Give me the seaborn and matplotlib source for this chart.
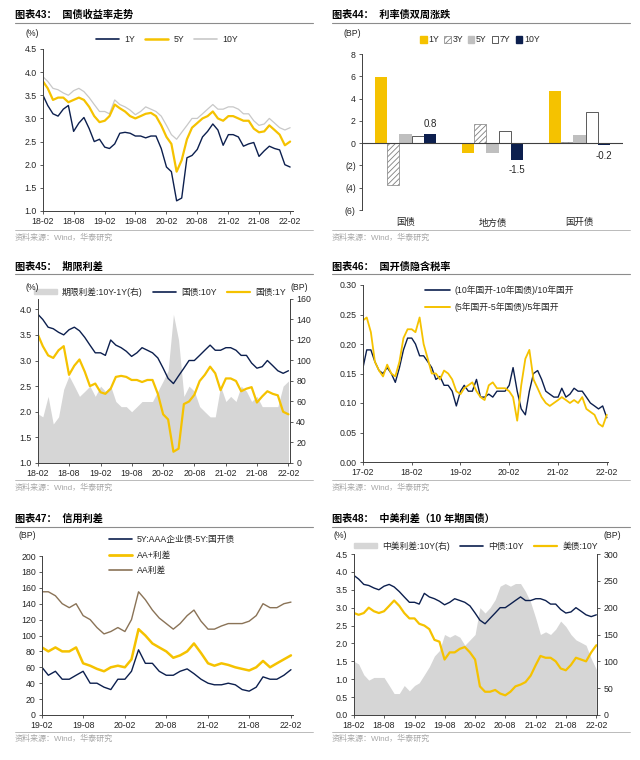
import matplotlib
matplotlib.use('Agg')
import matplotlib.pyplot as plt
import matplotlib.dates as mdates
from matplotlib.lines import Line2D
from matplotlib.patches import Patch
from matplotlib.ticker import FuncFormatter, FormatStrFormatter, MultipleLocator
import pandas as pd
import seaborn as sns

sns.set_theme(style='ticks')
plt.rcParams['font.family'] = ['Liberation Sans', 'Noto Sans CJK SC', 'DejaVu Sans']
plt.rcParams['axes.unicode_minus'] = False
plt.rcParams['hatch.linewidth'] = 0.6

NAVY = '#0c1f4e'
GOLD = '#f5c200'
LGRAY = '#c8c8c8'
AREA = '#d6d6d6'
BROWN = '#8a7357'
W, H = 640, 760

# =============================================================================
# data (monthly readings)
# =============================================================================
months_18 = pd.date_range('2018-02-01', '2022-02-01', freq='MS')
months_17 = pd.date_range('2017-02-01', '2022-02-01', freq='MS')
months_19 = pd.date_range('2019-02-01', '2022-02-01', freq='MS')

gov_1y = [3.50, 3.28, 3.10, 3.05, 3.20, 3.28, 2.72, 2.90, 3.02, 2.78, 2.50, 2.55,
          2.38, 2.35, 2.45, 2.68, 2.70, 2.68, 2.62, 2.62, 2.58, 2.62, 2.62, 2.35,
          1.95, 1.85, 1.22, 1.28, 2.15, 2.20, 2.33, 2.60, 2.72, 2.88, 2.75, 2.42,
          2.65, 2.65, 2.60, 2.40, 2.45, 2.48, 2.18, 2.30, 2.40, 2.35, 2.32, 2.00,
          1.95]
gov_5y = [3.80, 3.65, 3.40, 3.45, 3.45, 3.35, 3.40, 3.45, 3.40, 3.25, 3.05, 2.92,
          2.95, 3.05, 3.30, 3.22, 3.15, 3.05, 3.00, 3.05, 3.10, 3.12, 3.05, 2.85,
          2.60, 2.45, 1.85, 2.10, 2.55, 2.80, 2.90, 3.00, 3.05, 3.15, 3.00, 2.95,
          3.05, 3.05, 3.00, 2.95, 2.95, 2.78, 2.70, 2.72, 2.85, 2.75, 2.65, 2.42,
          2.50]
gov_10y = [3.90, 3.80, 3.65, 3.62, 3.55, 3.50, 3.60, 3.65, 3.58, 3.45, 3.30, 3.15,
           3.15, 3.10, 3.40, 3.30, 3.25, 3.18, 3.08, 3.15, 3.25, 3.20, 3.15, 3.05,
           2.85, 2.65, 2.55, 2.70, 2.85, 3.00, 3.00, 3.10, 3.20, 3.30, 3.20, 3.20,
           3.25, 3.25, 3.20, 3.10, 3.10, 2.95, 2.85, 2.88, 3.00, 2.90, 2.80, 2.75,
           2.80]

bond_types = ['国债', '地方债', '国开债']
tenors = ['1Y', '3Y', '5Y', '7Y', '10Y']
chg_1y = [5.9, -0.9, 4.7]
chg_3y = [-3.8, 1.7, 0.1]
chg_5y = [0.8, -0.9, 0.7]
chg_7y = [0.6, 1.1, 2.8]
chg_10y = [0.8, -1.5, -0.2]

term_spread = [48, 45, 65, 38, 45, 72, 85, 75, 65, 70, 75, 65,
               75, 70, 75, 60, 55, 55, 50, 55, 60, 60, 60, 70,
               80, 90, 145, 120, 65, 75, 70, 55, 50, 45, 45, 75,
               60, 65, 60, 75, 70, 60, 65, 55, 55, 55, 55, 75,
               80]

tax_10y = [0.160, 0.190, 0.190, 0.170, 0.155, 0.150, 0.160, 0.150, 0.135, 0.160, 0.190, 0.210,
           0.210, 0.200, 0.180, 0.180, 0.170, 0.160, 0.140, 0.145, 0.130, 0.130, 0.120, 0.095,
           0.120, 0.130, 0.120, 0.120, 0.140, 0.110, 0.110, 0.115, 0.110, 0.120, 0.120, 0.120,
           0.130, 0.160, 0.120, 0.090, 0.080, 0.120, 0.150, 0.155, 0.140, 0.120, 0.115, 0.110,
           0.110, 0.125, 0.110, 0.115, 0.125, 0.120, 0.120, 0.110, 0.100, 0.095, 0.090, 0.095,
           0.075]
tax_5y = [0.240, 0.245, 0.220, 0.170, 0.155, 0.145, 0.165, 0.150, 0.145, 0.170, 0.210, 0.225,
          0.225, 0.220, 0.245, 0.200, 0.175, 0.150, 0.150, 0.140, 0.155, 0.150, 0.140, 0.120,
          0.115, 0.125, 0.130, 0.135, 0.120, 0.110, 0.105, 0.130, 0.135, 0.125, 0.125, 0.125,
          0.120, 0.110, 0.070, 0.130, 0.175, 0.190, 0.140, 0.125, 0.110, 0.100, 0.095, 0.100,
          0.105, 0.110, 0.105, 0.100, 0.105, 0.100, 0.110, 0.090, 0.085, 0.080, 0.065, 0.060,
          0.080]

aaa_spread = [60, 50, 55, 45, 45, 50, 55, 40, 40, 35, 32, 45,
              45, 55, 82, 65, 65, 55, 50, 50, 55, 58, 52, 45,
              40, 38, 38, 40, 38, 32, 30, 35, 48, 45, 45, 50,
              57]
aa_plus_spread = [85, 80, 85, 80, 80, 85, 65, 62, 58, 55, 60, 62,
                  60, 70, 108, 100, 90, 85, 80, 72, 75, 80, 90, 78,
                  65, 62, 65, 63, 60, 58, 56, 60, 68, 60, 65, 70,
                  75]
aa_spread = [155, 155, 150, 140, 135, 140, 125, 120, 110, 102, 105, 110,
             105, 120, 155, 145, 132, 122, 115, 108, 115, 125, 132, 118,
             108, 108, 112, 115, 115, 115, 118, 125, 140, 135, 135, 140,
             142]

us_10y = [2.85, 2.80, 2.85, 3.00, 2.90, 2.85, 2.90, 3.05, 3.20, 3.05, 2.85, 2.70,
          2.70, 2.55, 2.50, 2.40, 2.10, 2.05, 1.55, 1.75, 1.75, 1.85, 1.90, 1.75,
          1.55, 0.80, 0.65, 0.65, 0.70, 0.60, 0.55, 0.65, 0.80, 0.85, 0.92, 1.10,
          1.40, 1.65, 1.60, 1.60, 1.50, 1.30, 1.25, 1.40, 1.60, 1.55, 1.50, 1.75,
          1.95]
cn_us_spread = [100, 95, 75, 65, 70, 70, 70, 55, 40, 40, 55, 45,
                55, 60, 75, 90, 110, 120, 150, 145, 150, 145, 130, 140,
                150, 200, 190, 200, 215, 240, 245, 240, 245, 245, 230, 210,
                180, 150, 155, 150, 160, 175, 165, 150, 140, 135, 130, 105,
                85]

# =============================================================================
# helpers
# =============================================================================
fig = plt.figure(figsize=(6.4, 7.6), dpi=100)


def px_axes(l, t, r, b):
    return fig.add_axes([l / W, 1 - b / H, (r - l) / W, (b - t) / H])


def fx(x):
    return x / W


def fy(y):
    return 1 - y / H


def frame(x0, x1, y_title, y_line, y_src_line, y_src, title):
    fig.text(fx(x0), fy(y_title), title, fontsize=7.3, fontweight='bold',
             va='center', ha='left', color='black')
    fig.add_artist(Line2D([fx(x0), fx(x1)], [fy(y_line)] * 2,
                          color='#8c8c8c', lw=0.8))
    fig.add_artist(Line2D([fx(x0), fx(x1)], [fy(y_src_line)] * 2,
                          color='#b0b0b0', lw=0.6))
    fig.text(fx(x0), fy(y_src), '资料来源：Wind，华泰研究', fontsize=5.8,
             va='center', ha='left', color='#a6a6a6')


def unit(x, y, s):
    fig.text(fx(x), fy(y), s, fontsize=6.3, ha='center', va='center')


def style(ax):
    for side in ['top', 'right']:
        ax.spines[side].set_visible(False)
    for side in ['left', 'bottom']:
        ax.spines[side].set_color('#404040')
        ax.spines[side].set_linewidth(0.7)
    ax.tick_params(labelsize=6.3, length=2.5, width=0.6, color='#404040', pad=2)
    ax.set_xlabel('')
    ax.set_ylabel('')


def style_twin(ax2):
    for side in ['top', 'left', 'bottom']:
        ax2.spines[side].set_visible(False)
    ax2.spines['right'].set_color('#404040')
    ax2.spines['right'].set_linewidth(0.7)
    ax2.tick_params(labelsize=6.3, length=2.5, width=0.6, color='#404040', pad=2)
    ax2.set_ylabel('')


def date_axis(ax, months, start, end):
    ax.xaxis.set_major_locator(mdates.MonthLocator(bymonth=months))
    ax.xaxis.set_major_formatter(mdates.DateFormatter('%y-%m'))
    ax.set_xlim(pd.Timestamp(start), pd.Timestamp(end))


leg_kw = dict(frameon=False, fontsize=6.3, handlelength=2.6, handletextpad=0.6,
              columnspacing=1.2, borderaxespad=0, borderpad=0)

# =============================================================================
# 图表43
# =============================================================================
frame(15, 313, 15, 23, 230, 238, '图表43：  国债收益率走势')
ax = px_axes(43, 49, 293, 211)
sns.lineplot(x=months_18, y=gov_10y, ax=ax, color=LGRAY, lw=0.9)
sns.lineplot(x=months_18, y=gov_5y, ax=ax, color=GOLD, lw=1.6)
sns.lineplot(x=months_18, y=gov_1y, ax=ax, color=NAVY, lw=1.0)
ax.set_ylim(1.0, 4.5)
ax.yaxis.set_major_locator(MultipleLocator(0.5))
ax.yaxis.set_major_formatter(FormatStrFormatter('%.1f'))
date_axis(ax, [2, 8], '2018-02-01', '2022-02-18')
style(ax)
unit(32, 33, '(%)')
handles = [Line2D([], [], color=NAVY, lw=1.2), Line2D([], [], color=GOLD, lw=1.8),
           Line2D([], [], color=LGRAY, lw=1.2)]
ax.legend(handles, ['1Y', '5Y', '10Y'], ncol=3, loc='center',
          bbox_to_anchor=(fx(167), fy(40)), bbox_transform=fig.transFigure,
          **leg_kw)

# =============================================================================
# 图表44
# =============================================================================
frame(332, 630, 15, 23, 230, 238, '图表44：  利率债双周涨跌')
ax = px_axes(362, 54, 623, 210)
bar_df = pd.DataFrame({
    'type': bond_types * 5,
    'tenor': [t for t in tenors for _ in bond_types],
    'bp': chg_1y + chg_3y + chg_5y + chg_7y + chg_10y,
})
bar_colors = [GOLD, 'white', '#bfbfbf', 'white', NAVY]
sns.barplot(data=bar_df, x='type', y='bp', hue='tenor', palette=bar_colors,
            width=0.7, gap=0, ax=ax, legend=False, saturation=1)
for i, cont in enumerate(ax.containers):
    for bar in cont:
        bar.set_linewidth(0)
        if tenors[i] == '3Y':
            bar.set_hatch('//////')
            bar.set_edgecolor('#7f7f7f')
            bar.set_linewidth(0.5)
        elif tenors[i] == '7Y':
            bar.set_edgecolor('#404040')
            bar.set_linewidth(0.6)
ax.bar_label(ax.containers[4], labels=[f'{v:.1f}' for v in chg_10y],
             padding=4, fontsize=7)
ax.axhline(0, color='#404040', lw=0.8)
ax.set_ylim(-6, 8)
ax.set_xlim(-0.5, 2.5)
ax.yaxis.set_major_locator(MultipleLocator(2))
ax.yaxis.set_major_formatter(FuncFormatter(
    lambda v, p: f'({abs(int(round(v)))})' if v < 0 else f'{int(round(v))}'))
style(ax)
ax.spines['bottom'].set_visible(False)
ax.tick_params(axis='x', length=0, labelsize=6.8, pad=6)
unit(352, 33, '(BP)')
bar_handles = [Patch(facecolor=GOLD, edgecolor=GOLD),
               Patch(facecolor='white', edgecolor='#7f7f7f', hatch='//////', lw=0.5),
               Patch(facecolor='#bfbfbf', edgecolor='#bfbfbf'),
               Patch(facecolor='white', edgecolor='#404040', lw=0.6),
               Patch(facecolor=NAVY, edgecolor=NAVY)]
ax.legend(bar_handles, tenors, ncol=5, loc='center',
          bbox_to_anchor=(fx(480), fy(40)), bbox_transform=fig.transFigure,
          frameon=False, fontsize=6.3, handlelength=0.7, handleheight=0.7,
          handletextpad=0.2, columnspacing=0.6, borderpad=0)

# =============================================================================
# 图表45
# =============================================================================
frame(15, 313, 267, 274, 480, 488, '图表45：  期限利差')
ax = px_axes(38, 299, 290, 463)
sns.lineplot(x=months_18, y=gov_10y, ax=ax, color=NAVY, lw=1.0)
sns.lineplot(x=months_18, y=gov_1y, ax=ax, color=GOLD, lw=1.6)
ax2 = ax.twinx()
ax2.fill_between(months_18, term_spread, 0, color=AREA, lw=0)
ax.set_zorder(ax2.get_zorder() + 1)
ax.patch.set_visible(False)
ax.set_ylim(1.0, 4.2)
ax.yaxis.set_major_locator(MultipleLocator(0.5))
ax.yaxis.set_major_formatter(FormatStrFormatter('%.1f'))
ax2.set_ylim(0, 160)
ax2.yaxis.set_major_locator(MultipleLocator(20))
date_axis(ax, [2, 8], '2018-02-01', '2022-02-10')
style(ax)
style_twin(ax2)
unit(32, 287, '(%)')
unit(299, 287, '(BP)')
handles = [Patch(facecolor=AREA, edgecolor=AREA),
           Line2D([], [], color=NAVY, lw=1.2), Line2D([], [], color=GOLD, lw=1.6)]
ax.legend(handles, ['期限利差:10Y-1Y(右)', '国债:10Y', '国债:1Y'], ncol=3,
          loc='center', bbox_to_anchor=(fx(160), fy(292)),
          bbox_transform=fig.transFigure, handleheight=0.6, **leg_kw)

# =============================================================================
# 图表46
# =============================================================================
frame(332, 630, 267, 274, 480, 488, '图表46：  国开债隐含税率')
ax = px_axes(363, 285, 608, 462)
sns.lineplot(x=months_17, y=tax_10y, ax=ax, color=NAVY, lw=1.0)
sns.lineplot(x=months_17, y=tax_5y, ax=ax, color=GOLD, lw=1.3)
ax.set_ylim(0, 0.30)
ax.yaxis.set_major_locator(MultipleLocator(0.05))
ax.yaxis.set_major_formatter(FormatStrFormatter('%.2f'))
date_axis(ax, [2], '2017-02-01', '2022-02-10')
style(ax)
handles = [Line2D([], [], color=NAVY, lw=1.2), Line2D([], [], color=GOLD, lw=1.4)]
ax.legend(handles, ['(10年国开-10年国债)/10年国开', '(5年国开-5年国债)/5年国开'],
          ncol=1, loc='upper left', bbox_to_anchor=(fx(425), fy(285)),
          bbox_transform=fig.transFigure, labelspacing=0.9,
          **{k: v for k, v in leg_kw.items() if k != 'handlelength'},
          handlelength=2.8)

# =============================================================================
# 图表47
# =============================================================================
frame(15, 313, 519, 527, 732, 739, '图表47：  信用利差')
ax = px_axes(42, 556, 293, 715)
sns.lineplot(x=months_19, y=aa_spread, ax=ax, color=BROWN, lw=1.0)
sns.lineplot(x=months_19, y=aa_plus_spread, ax=ax, color=GOLD, lw=1.8)
sns.lineplot(x=months_19, y=aaa_spread, ax=ax, color=NAVY, lw=1.0)
ax.set_ylim(0, 200)
ax.yaxis.set_major_locator(MultipleLocator(20))
date_axis(ax, [2, 8], '2019-02-01', '2022-02-10')
style(ax)
unit(27, 536, '(BP)')
handles = [Line2D([], [], color=NAVY, lw=1.2), Line2D([], [], color=GOLD, lw=2.0),
           Line2D([], [], color=BROWN, lw=1.2)]
ax.legend(handles, ['5Y:AAA企业债-5Y:国开债', 'AA+利差', 'AA利差'],
          ncol=1, loc='upper left', bbox_to_anchor=(fx(109), fy(535)),
          bbox_transform=fig.transFigure, labelspacing=0.75, **leg_kw)

# =============================================================================
# 图表48
# =============================================================================
frame(332, 630, 519, 527, 732, 739, '图表48：  中美利差（10 年期国债）')
ax = px_axes(354, 554, 597, 715)
sns.lineplot(x=months_18, y=gov_10y, ax=ax, color=NAVY, lw=1.0)
sns.lineplot(x=months_18, y=us_10y, ax=ax, color=GOLD, lw=1.6)
ax2 = ax.twinx()
ax2.fill_between(months_18, cn_us_spread, 0, color=AREA, lw=0)
ax.set_zorder(ax2.get_zorder() + 1)
ax.patch.set_visible(False)
ax.set_ylim(0, 4.5)
ax.yaxis.set_major_locator(MultipleLocator(0.5))
ax.yaxis.set_major_formatter(FormatStrFormatter('%.1f'))
ax2.set_ylim(0, 300)
ax2.yaxis.set_major_locator(MultipleLocator(50))
date_axis(ax, [2, 8], '2018-02-01', '2022-02-05')
style(ax)
style_twin(ax2)
unit(340, 536, '(%)')
unit(612, 536, '(BP)')
handles = [Patch(facecolor=AREA, edgecolor=AREA),
           Line2D([], [], color=NAVY, lw=1.2), Line2D([], [], color=GOLD, lw=1.6)]
ax.legend(handles, ['中美利差:10Y(右)', '中债:10Y', '美债:10Y'], ncol=3,
          loc='center', bbox_to_anchor=(fx(476), fy(546)),
          bbox_transform=fig.transFigure, handleheight=0.6, **leg_kw)

fig.savefig('out.png', dpi=100)
